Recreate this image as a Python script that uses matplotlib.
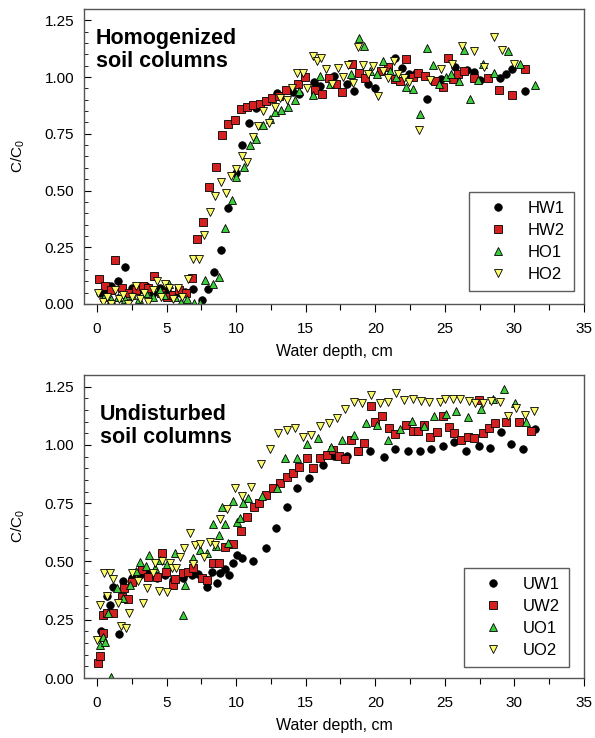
import numpy as np
import matplotlib
matplotlib.use('Agg')
import matplotlib.pyplot as plt
from matplotlib.ticker import MultipleLocator, FormatStrFormatter
#
# -----------------------------------------------------------------------------
#
""" Data read off the figure: water depth (cm) and C/C0 """
# Homogenized soil columns
hw1_x = [0.2, 0.6, 1.0, 1.5, 2.05, 2.5, 3.0, 3.5, 4.0, 4.5, 5.0, 5.5, 6.0, 6.33,
         6.93, 7.52, 7.95, 8.43, 8.9, 9.43, 9.98, 10.43, 10.95, 11.4, 12.95,
         14.1, 14.5, 15.57, 16.05, 17.07, 18.0, 18.5, 19.5, 20.0, 21.4, 21.9,
         22.4, 22.95, 23.7, 24.7, 25.7, 26.6, 27.1, 27.55, 28.97, 29.4, 29.86,
         30.76]
hw1_y = [0.05, 0.06, 0.08, 0.10, 0.164, 0.07, 0.06, 0.08, 0.05, 0.07, 0.06, 0.04,
         0.05, 0.054, 0.064, 0.018, 0.064, 0.142, 0.24, 0.424, 0.576, 0.70, 0.797,
         0.865, 0.93, 0.934, 0.925, 0.978, 0.96, 1.005, 0.97, 0.94, 0.968, 0.952,
         1.085, 1.038, 1.015, 1.019, 0.905, 0.99, 1.044, 1.029, 1.022, 0.986,
         0.994, 1.015, 1.034, 0.94]

hw2_x = [0.17, 0.57, 1.0, 1.29, 1.8, 2.3, 2.8, 3.3, 3.7, 4.1, 4.6, 5.0, 5.5, 5.9,
         6.4, 6.8, 7.19, 7.64, 8.07, 8.55, 9.02, 9.45, 9.93, 10.33, 10.76, 11.24,
         11.71, 12.17, 12.6, 13.07, 13.55, 14.45, 14.93, 15.7, 16.2, 16.64, 17.17,
         17.6, 18.36, 18.83, 19.26, 20.4, 20.88, 21.4, 21.8, 22.24, 22.7, 23.07,
         23.55, 24.26, 24.86, 25.2, 25.57, 25.93, 26.4, 27.1, 28.07, 28.86, 29.86,
         30.76]
hw2_y = [0.108, 0.079, 0.06, 0.193, 0.07, 0.05, 0.06, 0.08, 0.07, 0.123, 0.05, 0.03,
         0.04, 0.06, 0.047, 0.113, 0.288, 0.361, 0.515, 0.602, 0.746, 0.795, 0.813,
         0.861, 0.868, 0.876, 0.883, 0.895, 0.907, 0.917, 0.942, 0.971, 1.0, 0.942,
         0.927, 0.997, 0.971, 0.936, 1.058, 1.019, 0.994, 1.026, 1.044, 0.99,
         0.982, 1.08, 1.0, 1.019, 1.004, 0.982, 0.956, 1.086, 0.99, 1.012, 1.026,
         0.997, 0.994, 0.942, 0.921, 1.034]

ho1_x = [0.5, 1.0, 1.5, 2.0, 2.5, 3.0, 3.5, 4.0, 4.5, 4.8, 5.2, 5.6, 6.05, 6.5,
         7.0, 7.4, 7.79, 8.31, 8.74, 9.21, 9.67, 9.98, 10.57, 11.0, 11.45, 11.95,
         12.4, 12.83, 13.26, 13.74, 14.2, 14.5, 15.5, 16.05, 16.76, 18.24, 18.86,
         19.21, 19.62, 20.1, 20.57, 21.05, 21.5, 22.24, 22.7, 23.19, 23.71,
         24.14, 24.6, 25.1, 25.45, 26.05, 26.4, 26.84, 27.36, 27.71, 28.55, 29.55,
         30.4, 31.45]
ho1_y = [0.03, 0.02, 0.03, 0.02, 0.04, 0.02, 0.05, 0.03, 0.06, 0.04, 0.09, 0.03,
         0.01, 0.02, 0.006, 0.006, 0.105, 0.09, 0.117, 0.335, 0.46, 0.558, 0.602,
         0.70, 0.727, 0.789, 0.814, 0.848, 0.854, 0.868, 0.898, 0.94, 0.92, 1.004,
         0.971, 1.015, 1.172, 1.136, 1.026, 1.012, 1.07, 1.026, 1.0, 0.956, 0.946,
         0.839, 1.128, 1.053, 0.968, 1.0, 1.015, 0.982, 1.121, 0.902, 0.986,
         1.059, 1.019, 1.114, 1.059, 0.963]

ho2_x = [0.1, 0.4, 0.7, 1.0, 1.3, 1.6, 1.9, 2.2, 2.5, 2.8, 3.1, 3.4, 3.7, 4.0, 4.3,
         4.6, 4.9, 5.2, 5.5, 5.8, 6.1, 6.52, 6.88, 7.3, 7.71, 8.12, 8.5, 8.9, 9.26,
         9.62, 10.02, 10.4, 10.81, 11.21, 11.6, 11.95, 12.36, 12.79, 13.19, 13.67,
         14.02, 14.38, 14.79, 15.1, 15.5, 15.8, 16.1, 16.45, 16.88, 17.3, 17.7,
         18.07, 18.43, 18.79, 19.14, 19.5, 19.86, 20.2, 20.57, 20.93, 21.33,
         21.64, 22.07, 22.4, 23.12, 23.9, 24.69, 25.5, 26.2, 27.07, 27.79, 28.5,
         29.14, 29.98]
ho2_y = [0.05, 0.01, 0.03, 0.0, 0.06, 0.02, 0.04, 0.0, 0.03, 0.08, 0.02, 0.05, 0.01,
         0.06, 0.10, 0.03, 0.09, 0.07, 0.02, 0.07, 0.03, 0.108, 0.2, 0.2, 0.303,
         0.405, 0.474, 0.536, 0.488, 0.566, 0.595, 0.653, 0.624, 0.737, 0.785,
         0.851, 0.797, 0.868, 0.909, 0.898, 0.95, 1.019, 1.019, 0.953, 1.094,
         1.07, 1.082, 1.034, 0.968, 1.038, 1.0, 1.053, 0.975, 1.132, 1.053, 1.012,
         1.048, 0.917, 1.026, 0.997, 1.07, 1.015, 0.994, 0.978, 0.766, 0.986,
         1.034, 1.056, 1.136, 1.117, 1.044, 1.177, 1.118, 1.056]

# Undisturbed soil columns
uw1_x = [0.27, 0.7, 0.94, 1.13, 1.6, 1.9, 2.5, 3.1, 3.7, 4.3, 4.9, 5.5, 6.2, 6.81,
         7.29, 7.89, 8.25, 8.61, 8.85, 9.21, 9.52, 9.76, 10.05, 10.41, 11.2, 12.16,
         12.88, 13.69, 14.41, 15.27, 16.24, 17.0, 17.96, 18.73, 19.64, 20.6,
         21.39, 22.32, 23.19, 24.03, 24.87, 25.68, 26.53, 27.43, 28.27, 29.06,
         29.78, 30.63, 31.51]
uw1_y = [0.203, 0.352, 0.313, 0.389, 0.188, 0.418, 0.43, 0.44, 0.45, 0.43, 0.44,
         0.42, 0.43, 0.442, 0.446, 0.392, 0.456, 0.406, 0.449, 0.466, 0.442,
         0.492, 0.528, 0.514, 0.503, 0.557, 0.643, 0.735, 0.814, 0.857, 0.915,
         0.953, 0.954, 0.976, 0.974, 0.946, 0.983, 0.974, 0.976, 0.983, 0.996,
         1.012, 0.974, 0.996, 0.988, 1.055, 1.003, 0.983, 1.069]

uw2_x = [0.1, 0.22, 0.41, 0.45, 0.7, 1.17, 1.78, 1.94, 2.25, 2.5, 3.22, 3.69, 4.29,
         4.7, 4.96, 5.49, 5.61, 6.21, 6.57, 6.93, 7.53, 7.89, 8.32, 8.8, 9.21, 9.81,
         10.34, 10.77, 11.25, 11.68, 12.16, 12.68, 13.17, 13.65, 14.12, 14.55,
         15.06, 15.52, 16.02, 16.5, 16.98, 17.37, 17.84, 18.28, 18.74, 19.21,
         19.71, 20.0, 20.48, 20.96, 21.44, 22.23, 22.68, 23.07, 23.53, 23.96,
         24.44, 24.87, 25.27, 25.68, 26.19, 26.64, 27.07, 27.43, 27.74, 28.15,
         28.58, 29.42, 30.31, 31.22]
uw2_y = [0.066, 0.094, 0.192, 0.27, 0.278, 0.278, 0.349, 0.385, 0.338, 0.413,
         0.464, 0.435, 0.435, 0.538, 0.456, 0.399, 0.424, 0.449, 0.456, 0.471,
         0.428, 0.421, 0.492, 0.492, 0.561, 0.574, 0.631, 0.692, 0.733, 0.752,
         0.785, 0.814, 0.835, 0.864, 0.881, 0.907, 0.944, 0.9, 0.944, 0.957, 0.98,
         0.953, 0.939, 1.021, 0.972, 1.01, 1.169, 1.1, 1.126, 1.072, 1.047, 1.086,
         1.06, 1.06, 1.086, 1.036, 1.055, 1.126, 1.076, 1.053, 1.021, 1.036,
         1.029, 1.193, 1.05, 1.072, 1.093, 1.1, 1.1, 1.058]

uo1_x = [0.22, 0.45, 0.58, 0.81, 0.98, 1.41, 1.89, 2.37, 2.8, 3.09, 3.5, 3.76,
         4.2, 4.53, 5.0, 5.61, 6.21, 6.33, 6.93, 7.41, 7.89, 8.37, 8.56, 8.8, 8.97,
         9.21, 9.45, 9.76, 10.05, 10.29, 10.48, 10.89, 11.84, 12.93, 13.53, 14.37,
         15.1, 15.9, 16.85, 17.6, 18.47, 19.33, 20.12, 20.91, 21.75, 22.64, 23.47,
         24.24, 25.08, 25.82, 26.66, 27.59, 28.45, 29.28, 30.02, 30.86]
uo1_y = [0.142, 0.177, 0.156, 0.278, 0.003, 0.385, 0.342, 0.399, 0.46, 0.499, 0.48,
         0.528, 0.47, 0.506, 0.49, 0.538, 0.27, 0.399, 0.514, 0.549, 0.535, 0.661,
         0.567, 0.614, 0.733, 0.661, 0.581, 0.761, 0.671, 0.686, 0.75, 0.771,
         0.781, 0.814, 0.943, 0.943, 1.004, 1.029, 0.993, 1.019, 1.043, 1.096,
         1.086, 1.019, 1.069, 1.104, 1.079, 1.126, 1.133, 1.147, 1.121, 1.153,
         1.196, 1.239, 1.179, 1.1]

uo2_x = [0.02, 0.22, 0.5, 0.7, 0.94, 1.13, 1.53, 1.7, 2.09, 2.33, 2.5, 2.97, 3.33,
         3.57, 4.0, 4.17, 4.49, 4.7, 5.01, 5.25, 5.4, 5.68, 6.0, 6.26, 6.69, 6.9,
         7.05, 7.41, 7.7, 8.13, 8.49, 8.85, 9.33, 9.93, 10.41, 11.06, 11.8, 12.4,
         13.04, 13.65, 14.24, 14.8, 15.37, 16.04, 16.68, 17.27, 17.84, 18.47,
         19.04, 19.71, 20.31, 20.91, 21.49, 22.09, 22.68, 23.29, 23.84, 24.63,
         25.04, 25.59, 26.12, 26.71, 27.19, 27.74, 28.32, 28.94, 29.52, 30.14,
         30.74, 31.39]
uo2_y = [0.163, 0.313, 0.449, 0.352, 0.449, 0.424, 0.32, 0.223, 0.216, 0.28, 0.449,
         0.418, 0.32, 0.385, 0.45, 0.495, 0.375, 0.50, 0.37, 0.492, 0.47, 0.471,
         0.52, 0.557, 0.621, 0.49, 0.571, 0.575, 0.52, 0.585, 0.571, 0.681, 0.724,
         0.814, 0.781, 0.821, 0.917, 0.981, 1.05, 1.064, 1.072, 1.033, 1.043,
         1.08, 1.095, 1.115, 1.153, 1.186, 1.179, 1.215, 1.179, 1.186, 1.224,
         1.193, 1.197, 1.189, 1.186, 1.186, 1.197, 1.197, 1.197, 1.189, 1.179,
         1.179, 1.19, 1.186, 1.122, 1.158, 1.129, 1.146]
#
# -----------------------------------------------------------------------------
#
""" Plot style """
plt.rcParams['font.family'] = ['Liberation Sans', 'DejaVu Sans']
plt.rcParams['mathtext.fontset'] = 'custom'
plt.rcParams['mathtext.rm'] = 'Liberation Sans'

c_red = '#d42020'
c_green = '#3ccc3c'
c_yellow = '#fcfc6c'

f = plt.figure(figsize=(5.95, 7.38), dpi=100)
ax1 = f.add_axes([0.1412, 0.5881, 0.8403, 0.3997])
ax2 = f.add_axes([0.1412, 0.0813, 0.8403, 0.4106])


def draw_panel(ax, series, title, title_pos, leg_anchor):
    for x, y, mk, col, ms, lab in series:
        ax.plot(x, y, linestyle='none', marker=mk, markersize=ms,
                markerfacecolor=col, markeredgecolor='black',
                markeredgewidth=0.6, label=lab)
    ax.set_xlim(-0.93, 35)
    ax.set_ylim(0, 1.3)
    ax.xaxis.set_major_locator(MultipleLocator(5))
    ax.xaxis.set_minor_locator(MultipleLocator(2.5))
    ax.yaxis.set_major_locator(MultipleLocator(0.25))
    ax.yaxis.set_minor_locator(MultipleLocator(0.05))
    ax.yaxis.set_major_formatter(FormatStrFormatter('%.2f'))
    ax.tick_params(axis='x', which='major', direction='out', length=6,
                   width=0.8, pad=7, labelsize=11)
    ax.tick_params(axis='x', which='minor', direction='out', length=4.5,
                   width=0.8)
    ax.tick_params(axis='y', which='major', direction='in', length=5,
                   width=0.8, pad=7, labelsize=11)
    ax.tick_params(axis='y', which='minor', direction='in', length=3, width=0.6)
    for s in ax.spines.values():
        s.set_color('#555555')
        s.set_linewidth(1.0)
    ax.set_xlabel('Water depth, cm', fontsize=11.5, labelpad=6)
    ax.set_ylabel('C/C$_0$', fontsize=11, labelpad=13)
    ax.text(title_pos[0], title_pos[1], title, transform=ax.transAxes,
            fontsize=15.5, fontweight='bold', va='top', ha='left',
            linespacing=1.12)
    leg = ax.legend(loc='lower right', bbox_to_anchor=leg_anchor, fontsize=12,
                    frameon=True, fancybox=False, handletextpad=0.6,
                    borderpad=0.53, labelspacing=0.42, handlelength=2.4,
                    borderaxespad=0)
    leg.get_frame().set_edgecolor('#333333')
    leg.get_frame().set_linewidth(1.0)


draw_panel(ax1,
           [(hw1_x, hw1_y, 'o', 'black', 5.4, 'HW1'),
            (hw2_x, hw2_y, 's', c_red, 5.2, 'HW2'),
            (ho1_x, ho1_y, '^', c_green, 6, 'HO1'),
            (ho2_x, ho2_y, 'v', c_yellow, 6, 'HO2')],
           'Homogenized\nsoil columns', (0.024, 0.937), (0.98, 0.044))

draw_panel(ax2,
           [(uw1_x, uw1_y, 'o', 'black', 5.4, 'UW1'),
            (uw2_x, uw2_y, 's', c_red, 5.2, 'UW2'),
            (uo1_x, uo1_y, '^', c_green, 6, 'UO1'),
            (uo2_x, uo2_y, 'v', c_yellow, 6, 'UO2')],
           'Undisturbed\nsoil columns', (0.032, 0.905), (0.97, 0.036))

f.savefig('out.png', dpi=100)
